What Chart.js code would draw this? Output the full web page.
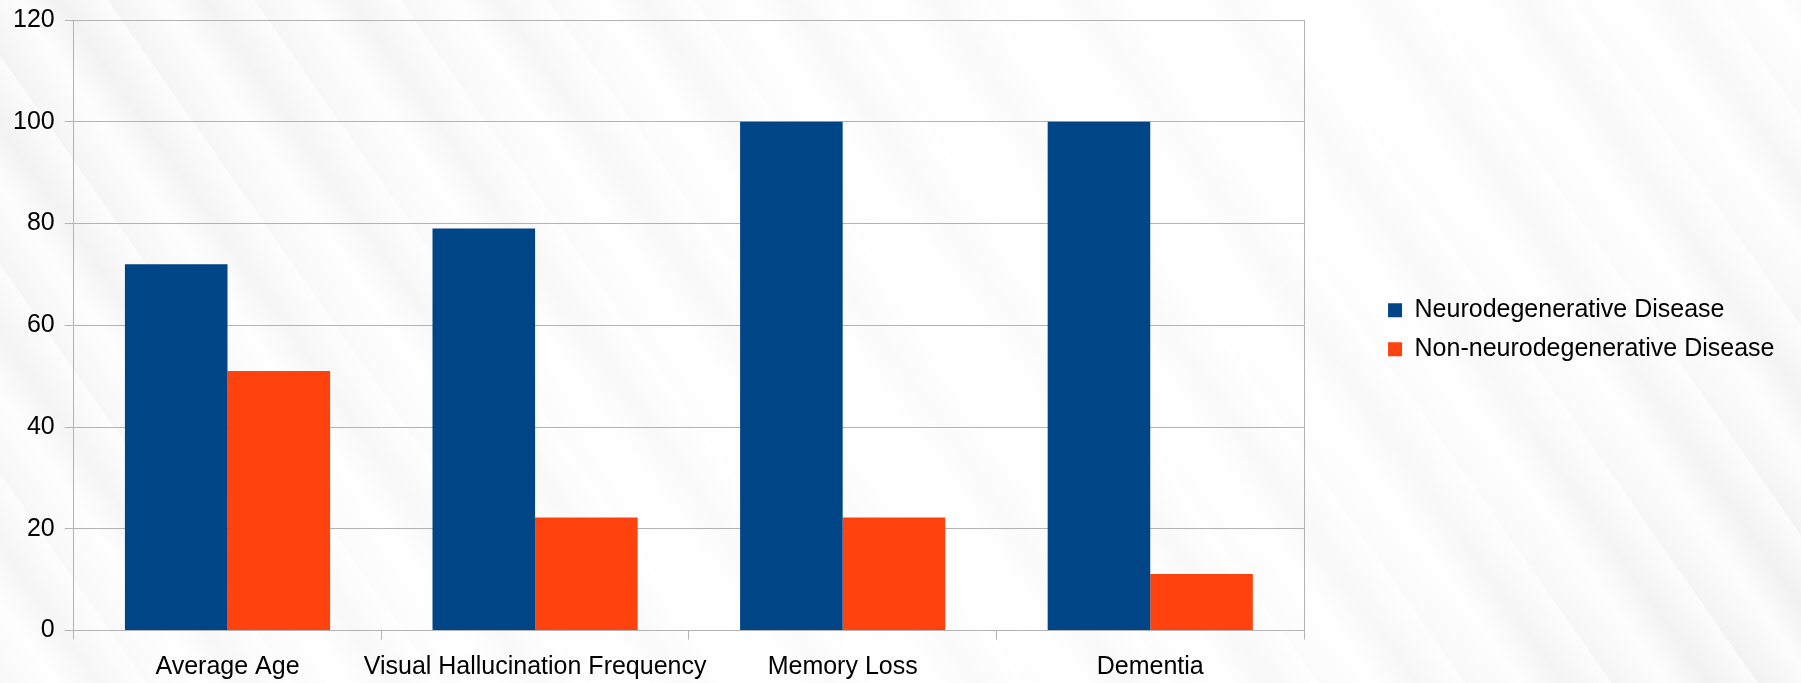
<!DOCTYPE html>
<html>
<head>
<meta charset="utf-8">
<title>Neurodegenerative vs non-neurodegenerative disease</title>
<script src="https://cdn.jsdelivr.net/npm/chart.js@4/dist/chart.umd.min.js"></script>
<style>
    html, body {
        margin: 0;
        padding: 0;
        overflow: hidden;
    }
    body {
        width: 1801px;
        height: 683px;
        background-color: #fbfbfb;
        background-image:
            repeating-linear-gradient(55deg, rgba(255,255,255,0) 0px, rgba(255,255,255,0.8) 45px, rgba(236,236,236,0.22) 80px, rgba(255,255,255,0.7) 120px),
            linear-gradient(125deg, #f3f3f3 0%, #fbfbfb 30%, #ffffff 55%, #fbfbfb 80%, #f1f1f1 100%);
    }
    #chart {
        display: block;
    }
</style>
</head>
<body>
<canvas id="chart" width="1801" height="683"></canvas>
<script>
    // values
    const categories = ["Average Age", "Visual Hallucination Frequency", "Memory Loss", "Dementia"];
    const neuroValues = [72, 79, 100, 100];
    const nonNeuroValues = [51, 22.2, 22.2, 11.1];
    const seriesNames = ["Neurodegenerative Disease", "Non-neurodegenerative Disease"];
    const yTicks = [0, 20, 40, 60, 80, 100, 120];

    const gridColor = "#b3b3b3";

    Chart.defaults.font.family = "'Liberation Sans', Arial, sans-serif";
    Chart.defaults.font.size = 25;
    Chart.defaults.color = "#000";

    let ctx = document.getElementById("chart").getContext("2d");
    let chart = new Chart(ctx, {
        type: "bar",
        data: {
            labels: categories,
            datasets: [{
                label: seriesNames[0],
                data: neuroValues,
                backgroundColor: "#004586",
                borderWidth: 0
            }, {
                label: seriesNames[1],
                data: nonNeuroValues,
                backgroundColor: "#ff420e",
                borderWidth: 0
            }]
        },
        options: {
            responsive: false,
            animation: false,
            devicePixelRatio: 1,
            categoryPercentage: 0.667,
            barPercentage: 1.0,
            layout: {
                padding: {top: 12, left: 3, right: 16.5, bottom: -12.5}
            },
            plugins: {
                legend: {
                    position: "right",
                    fullSize: false,
                    maxWidth: 420,
                    title: {
                        display: true,
                        text: " ",
                        font: {size: 5},
                        padding: {top: 0, bottom: 3}
                    },
                    labels: {
                        boxWidth: 14,
                        boxHeight: 14,
                        padding: 14
                    }
                },
                tooltip: {enabled: false}
            },
            scales: {
                x: {
                    grid: {
                        offset: true,
                        drawOnChartArea: false,
                        color: gridColor,
                        tickLength: 9
                    },
                    border: {color: gridColor},
                    ticks: {padding: 13, maxRotation: 0, autoSkip: false}
                },
                y: {
                    min: yTicks[0],
                    max: yTicks[yTicks.length - 1],
                    afterBuildTicks: scale => {
                        scale.ticks = yTicks.map(v => ({value: v}));
                    },
                    grid: {
                        color: gridColor,
                        tickLength: 9
                    },
                    border: {color: gridColor},
                    ticks: {padding: 10, font: {lineHeight: 0.8}}
                },
                // empty axis: draws the right frame line and keeps the gap to the legend
                frame: {
                    position: "right",
                    grid: {drawOnChartArea: false, drawTicks: false},
                    border: {color: gridColor},
                    ticks: {display: false},
                    afterFit: scale => {
                        scale.width = 70;
                    }
                }
            }
        }
    });
</script>
</body>
</html>
